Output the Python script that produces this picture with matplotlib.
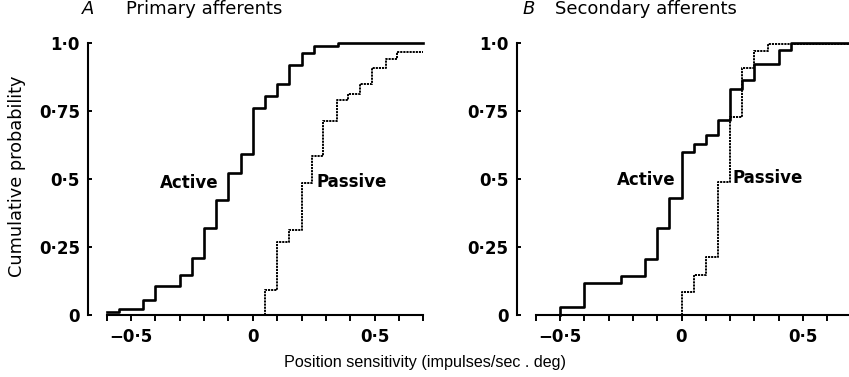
import numpy as np
import matplotlib.pyplot as plt

# --- data (step edges and cumulative levels) ---
a_active_x = [-0.6, -0.55, -0.45, -0.40, -0.30, -0.25, -0.20, -0.15, -0.10, -0.05,
              0.0, 0.05, 0.10, 0.15, 0.20, 0.25, 0.35, 0.7]
a_active_y = [0.01, 0.021, 0.055, 0.107, 0.147, 0.211, 0.319, 0.423, 0.521, 0.594,
              0.763, 0.805, 0.852, 0.919, 0.964, 0.989, 1.0, 1.0]

a_passive_x = [0.05, 0.05, 0.10, 0.15, 0.20, 0.245, 0.29, 0.345, 0.39, 0.44, 0.49,
               0.545, 0.59, 0.7]
a_passive_y = [0.0, 0.092, 0.267, 0.312, 0.484, 0.585, 0.714, 0.790, 0.815, 0.852,
               0.910, 0.944, 0.968, 0.968]

b_active_x = [-0.5, -0.5, -0.4, -0.25, -0.15, -0.10, -0.05, 0.0, 0.05, 0.10, 0.15,
              0.20, 0.25, 0.30, 0.40, 0.45, 0.7]
b_active_y = [0.0, 0.031, 0.116, 0.143, 0.205, 0.319, 0.431, 0.600, 0.631, 0.662,
              0.717, 0.833, 0.864, 0.922, 0.977, 1.0, 1.0]

b_passive_x = [0.0, 0.0, 0.05, 0.10, 0.15, 0.20, 0.25, 0.30, 0.355, 0.7]
b_passive_y = [0.0, 0.086, 0.147, 0.212, 0.490, 0.729, 0.910, 0.972, 0.996, 0.996]

panel_letters = ['A', 'B']
panel_titles = ['Primary afferents', 'Secondary afferents']

x_ticks = np.round(np.arange(-0.6, 0.71, 0.1), 1)
x_labels = {-0.5: '\u22120\u00b75', 0.0: '0', 0.5: '0\u00b75'}
y_ticks = [0, 0.25, 0.5, 0.75, 1.0]
y_labels = ['0', '0\u00b725', '0\u00b75', '0\u00b775', '1\u00b70']

plt.rcParams['font.family'] = ['DejaVu Sans']

fig = plt.figure(figsize=(8.49, 3.77), dpi=100)
W, H = 849, 377

def make_axes(x_left_px, x_right_px, spine_px):
    ax = fig.add_axes([x_left_px / W, (H - 315) / H,
                       (x_right_px - x_left_px) / W, (315 - 43.3) / H])
    ax.set_xlim(-0.6, 0.7)
    ax.set_ylim(0, 1.0)
    for s in ['top', 'right']:
        ax.spines[s].set_visible(False)
    ax.spines['left'].set_position(('outward', (x_left_px - spine_px) * 72 / 100))
    ax.spines['left'].set_bounds(0, 1.0)
    ax.spines['left'].set_linewidth(1.5)
    ax.spines['bottom'].set_linewidth(1.5)
    ax.set_xticks(x_ticks)
    ax.set_xticklabels([x_labels.get(float(t), '') for t in x_ticks])
    ax.set_yticks(y_ticks)
    ax.set_yticklabels(y_labels)
    ax.tick_params(axis='x', direction='out', length=4, width=1.4, pad=5,
                   labelsize=12)
    ax.tick_params(axis='y', direction='in', length=3, width=1.4, pad=6,
                   labelsize=12)
    for lab in ax.get_xticklabels() + ax.get_yticklabels():
        lab.set_fontweight('bold')
    return ax

axA = make_axes(106.7, 423.3, 88.3)
axB = make_axes(535.7, 851.6, 516.7)

solid = dict(color='black', lw=1.9, where='post', clip_on=False, zorder=3)
dotted = dict(color='black', lw=1.4, where='post', clip_on=False, zorder=2,
              linestyle=(0, (1.1, 0.5)))

axA.step(a_active_x, a_active_y, **solid)
axA.step(a_passive_x, a_passive_y, **dotted)
axB.step(b_active_x, b_active_y, **solid)
axB.step(b_passive_x, b_passive_y, **dotted)

lab_kw = dict(fontsize=12, fontweight='bold', ha='center', va='center')
axA.text(-0.26, 0.485, 'Active', **lab_kw)
axA.text(0.405, 0.489, 'Passive', **lab_kw)
axB.text(-0.144, 0.496, 'Active', **lab_kw)
axB.text(0.354, 0.504, 'Passive', **lab_kw)

# panel headings
fig.text(82 / W, 1 - 9 / H, panel_letters[0], fontsize=13, style='italic',
         ha='left', va='center')
fig.text(126 / W, 1 - 9 / H, panel_titles[0], fontsize=13, ha='left', va='center')
fig.text(523 / W, 1 - 9 / H, panel_letters[1], fontsize=13, style='italic',
         ha='left', va='center')
fig.text(555 / W, 1 - 9 / H, panel_titles[1], fontsize=13, ha='left', va='center')

fig.text(17 / W, 1 - 176 / H, 'Cumulative probability', fontsize=12.8,
         rotation=90, ha='center', va='center')
fig.text(425 / W, 1 - 363 / H, 'Position sensitivity (impulses/sec . deg)',
         fontsize=11.6, family=['Liberation Sans', 'DejaVu Sans'],
         ha='center', va='center')

fig.savefig('out.png', dpi=100)
